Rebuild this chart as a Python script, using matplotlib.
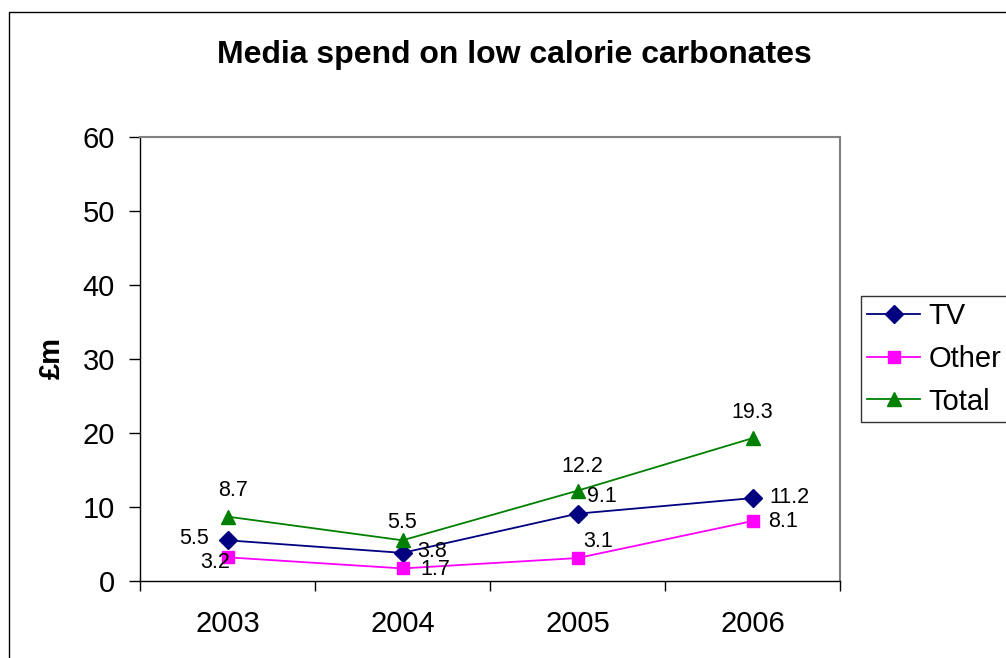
import matplotlib
matplotlib.use("Agg")
import matplotlib.pyplot as plt
from matplotlib.patches import Rectangle

plt.rcParams['font.family'] = ['Liberation Sans', 'DejaVu Sans']

years = ["2003", "2004", "2005", "2006"]
tv = [5.5, 3.8, 9.1, 11.2]
other = [3.2, 1.7, 3.1, 8.1]
total = [8.7, 5.5, 12.2, 19.3]
y_ticks = [0, 10, 20, 30, 40, 50, 60]

# label placement for each point: (dx, dy, ha) in pixels
tv_offsets = [(-19, 2, 'right'), (15, 1, 'left'), (9, 17, 'left'), (17, 1, 'left')]
other_offsets = [(-12, -5, 'center'), (18, -1, 'left'), (6, 17, 'left'), (16, 0, 'left')]
total_offsets = [(6, 26, 'center'), (0, 18, 'center'), (5, 24, 'center'), (0, 26, 'center')]

W, H = 1006, 658
fig = plt.figure(figsize=(W / 100, H / 100), dpi=100)
fig.patch.set_facecolor('white')

# chart area frame
fig.patches.append(Rectangle((9 / W, -0.05), 1.1, 1 - 12 / H + 0.05,
                             transform=fig.transFigure, fill=False,
                             edgecolor='black', linewidth=1.0))

ax = fig.add_axes([140 / W, 1 - 581 / H, 700 / W, 444 / H])
x = list(range(len(years)))

series = [
    ("TV", tv, '#000080', 'D', 9, tv_offsets),
    ("Other", other, '#FF00FF', 's', 9, other_offsets),
    ("Total", total, '#008000', '^', 10, total_offsets),
]
handles = []
for name, vals, col, mk, ms, offs in series:
    h, = ax.plot(x, vals, color=col, marker=mk, markersize=ms,
                 markerfacecolor=col, markeredgecolor=col, linewidth=1.3,
                 label=name, clip_on=False, zorder=3)
    handles.append(h)
    for xi, v, (dx, dy, ha) in zip(x, vals, offs):
        ax.annotate(f"{v:.1f}", (xi, v), xytext=(dx, dy),
                    textcoords='offset pixels', ha=ha, va='center',
                    fontsize=15.5, color='black', zorder=4)

ax.set_ylim(0, 60)
ax.set_yticks(y_ticks)
ax.set_xlim(-0.5, len(years) - 0.5)
ax.set_xticks([i - 0.5 for i in range(len(years) + 1)])
ax.set_xticklabels([])
ax.set_xticks(x, minor=True)
ax.set_xticklabels(years, minor=True)
ax.tick_params(axis='x', which='major', direction='out', length=7, width=1)
ax.tick_params(axis='x', which='minor', length=0, pad=21, labelsize=21)
ax.tick_params(axis='y', direction='out', length=8, width=1, pad=10, labelsize=21)

for s in ['left', 'bottom']:
    ax.spines[s].set_color('black')
    ax.spines[s].set_linewidth(1.0)
for s in ['top', 'right']:
    ax.spines[s].set_color('#808080')
    ax.spines[s].set_linewidth(1.5)

fig.text(514 / W, 1 - 55 / H, "Media spend on low calorie carbonates",
         ha='center', va='center', fontsize=23, fontweight='bold')
fig.text(52 / W, 1 - 358 / H, "£m", ha='center', va='center',
         rotation=90, fontsize=21, fontweight='bold')

leg = fig.legend(handles=handles, loc='upper left',
                 bbox_to_anchor=(861 / W, 1 - 296 / H), fontsize=21,
                 frameon=True, fancybox=False, shadow=False,
                 handlelength=1.8, handletextpad=0.3, labelspacing=0.5,
                 borderpad=0.22, borderaxespad=0)
leg.get_frame().set_edgecolor('black')
leg.get_frame().set_linewidth(1.0)

fig.savefig("out.png", dpi=100)
